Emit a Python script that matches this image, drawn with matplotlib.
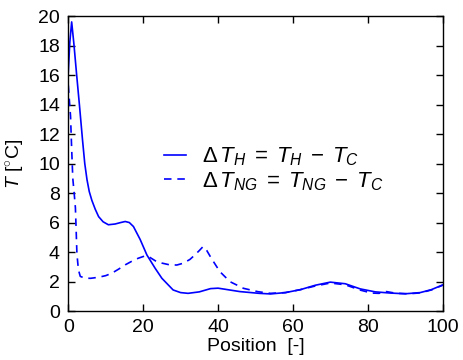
import numpy as np
import matplotlib
matplotlib.use('Agg')
import matplotlib.pyplot as plt

plt.rcParams['font.family'] = ['Liberation Sans', 'DejaVu Sans']
plt.rcParams['mathtext.fontset'] = 'custom'
plt.rcParams['mathtext.rm'] = 'Liberation Sans'
plt.rcParams['mathtext.it'] = 'Liberation Sans:italic'
plt.rcParams['mathtext.bf'] = 'Liberation Sans:bold'
plt.rcParams['font.size'] = 14

# Temperature difference along the exchanger, hot side vs. natural gas side
pos_h = [0, 0.4, 0.9, 1.5, 2.2, 3.0, 3.8, 4.4, 5.0, 5.6, 6.3, 7.2, 8.1, 9.3,
         10.7, 12.5, 14.0, 15.2, 16.3, 17.4, 19.2, 21.0, 23.2, 25.0, 28.0,
         30.0, 32.0, 35.0, 38.0, 40.0, 41.3, 45.8, 51.0, 54.0, 58.0, 62.0,
         66.0, 70.0, 74.0, 78.0, 82.0, 86.0, 90.0, 94.0, 97.0, 100.0]
dt_h = [16.2, 18.2, 19.6, 18.1, 16.1, 13.9, 11.6, 10.0, 8.9, 8.1, 7.5, 6.9,
        6.4, 6.05, 5.85, 5.9, 6.0, 6.07, 6.0, 5.73, 4.85, 3.8, 2.9, 2.22,
        1.43, 1.25, 1.2, 1.3, 1.52, 1.55, 1.5, 1.32, 1.2, 1.16, 1.25, 1.45,
        1.75, 1.96, 1.85, 1.5, 1.3, 1.22, 1.17, 1.25, 1.45, 1.77]

pos_ng = [0, 0.6, 0.9, 1.2, 1.6, 1.9, 2.1, 2.3, 2.7, 3.2, 4.5, 6.0, 8.1,
          10.0, 11.6, 13.5, 15.2, 17.0, 18.7, 20.3, 21.4, 23.6, 25.0, 27.1,
          29.0, 30.7, 32.5, 33.8, 35.0, 36.0, 37.0, 38.2, 40.5, 43.2, 46.8,
          50.7, 54.0, 58.0, 62.0, 66.0, 70.0, 74.0, 78.0, 81.0, 83.0, 85.0,
          86.5, 88.0, 91.0, 94.0, 97.0, 100.0]
dt_ng = [15.3, 13.2, 11.0, 9.0, 7.9, 7.0, 5.5, 3.9, 2.8, 2.35, 2.22, 2.22,
         2.29, 2.4, 2.56, 2.85, 3.13, 3.38, 3.58, 3.72, 3.7, 3.35, 3.25,
         3.13, 3.12, 3.24, 3.5, 3.8, 4.1, 4.37, 4.1, 3.58, 2.67, 1.99, 1.54,
         1.31, 1.2, 1.25, 1.45, 1.7, 1.9, 1.78, 1.42, 1.22, 1.2, 1.32, 1.25,
         1.2, 1.17, 1.23, 1.43, 1.75]

x_ticks = [0, 20, 40, 60, 80, 100]
y_ticks = list(range(0, 21, 2))

fig = plt.figure(figsize=(4.63, 3.6), dpi=100)
ax = fig.add_axes([0.1475, 0.136, 0.8085, 0.8195])

ax.plot(pos_h, dt_h, color='b', lw=1.2,
        label=r'$\Delta\,T_H\;=\;T_H\;-\;T_C$')
ax.plot(pos_ng, dt_ng, color='b', lw=1.2, ls=(0, (4.5, 3.5)),
        label=r'$\Delta\,T_{NG}\;=\;T_{NG}\;-\;T_C$')

ax.set_xlim(0, 100)
ax.set_ylim(0, 20)
ax.set_xticks(x_ticks)
ax.set_yticks(y_ticks)
ax.tick_params(direction='in', top=True, right=True, length=5, width=1,
               labelsize=14, pad=6)
for s in ax.spines.values():
    s.set_linewidth(1)

ax.set_xlabel('Position  [-]', fontsize=14, labelpad=1)
ax.set_ylabel(r'$T$ [$^{\circ}$C]', fontsize=14, labelpad=8)

ax.legend(loc='center', bbox_to_anchor=(0.548, 0.481), frameon=False,
          handlelength=1.0, handletextpad=0.72, labelspacing=0.1,
          fontsize=16)

fig.savefig('out.png', dpi=100)
